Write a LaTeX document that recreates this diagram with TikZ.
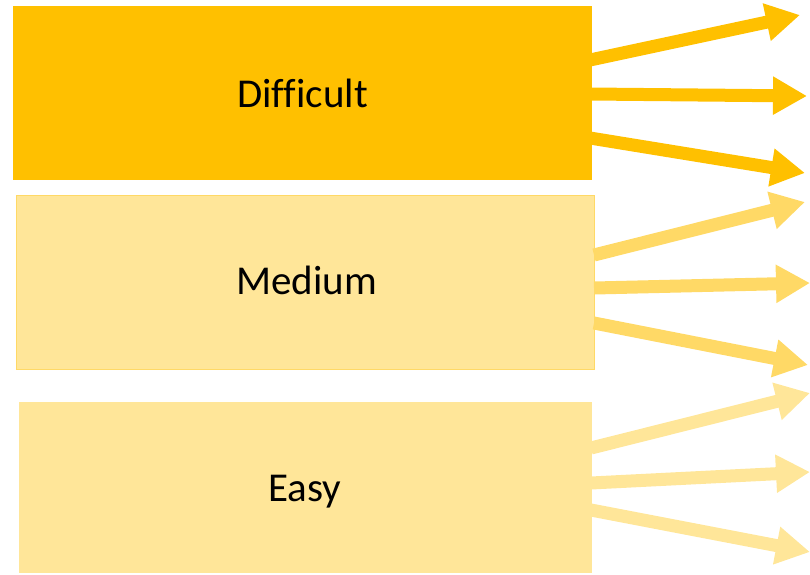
\documentclass[tikz,border=0pt]{standalone}
\usepackage{fontspec}
\setmainfont{Carlito}[Ligatures=CommonOff]
\usetikzlibrary{arrows.meta}
\definecolor{dark}{HTML}{FFC000}
\definecolor{mid}{HTML}{FFD966}
\definecolor{light}{HTML}{FFE699}
\tikzset{
  lvl/.style={inner sep=0pt, font=\fontsize{41}{48}\selectfont, text=black},
  bigarrow/.style={line width=13pt, -{Triangle[length=34pt,width=36pt]}},
}
\begin{document}
\begin{tikzpicture}[x=1pt,y=-1pt]
\useasboundingbox (0,0) rectangle (810,574);
\node[lvl, fill=dark, minimum width=579pt, minimum height=174pt] (d) at (302.5,93) {};
\node[lvl, fill=light, draw=mid, line width=1.5pt, minimum width=578pt, minimum height=174pt] (m) at (305.5,282.5) {};
\node[lvl, fill=light, minimum width=573pt, minimum height=171pt] (e) at (305.5,487.5) {};
\node[lvl, anchor=base] (dt) at (302.5,107) {Difficult};
\node[lvl, anchor=base] (mt) at (306.5,294.5) {Medium};
\node[lvl, anchor=base] (et) at (304.5,501) {Easy};
% start points
\coordinate (d1) at (590,60);  \coordinate (d2) at (590,94);  \coordinate (d3) at (590,138);
\coordinate (m1) at (594,255); \coordinate (m2) at (594,288); \coordinate (m3) at (594,323);
\coordinate (e1) at (591,448); \coordinate (e2) at (591,483); \coordinate (e3) at (591,510);
% tips
\coordinate (d1t) at (800,15);  \coordinate (d2t) at (807,96);  \coordinate (d3t) at (805,173);
\coordinate (m1t) at (805,202); \coordinate (m2t) at (810,283); \coordinate (m3t) at (808,365);
\coordinate (e1t) at (810,393); \coordinate (e2t) at (810,472); \coordinate (e3t) at (810,552);
\draw[bigarrow, dark] (d1) -- (d1t);
\draw[bigarrow, dark] (d2) -- (d2t);
\draw[bigarrow, dark] (d3) -- (d3t);
\draw[bigarrow, mid] (m1) -- (m1t);
\draw[bigarrow, mid] (m2) -- (m2t);
\draw[bigarrow, mid] (m3) -- (m3t);
\draw[bigarrow, light] (e1) -- (e1t);
\draw[bigarrow, light] (e2) -- (e2t);
\draw[bigarrow, light] (e3) -- (e3t);
\end{tikzpicture}
\end{document}
